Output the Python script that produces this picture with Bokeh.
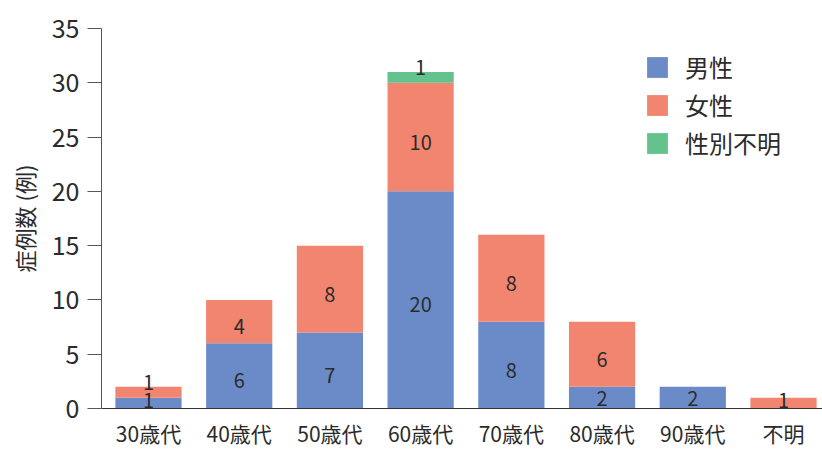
from bokeh.plotting import figure
from bokeh.models import (ColumnDataSource, Range1d, FixedTicker, SingleIntervalTicker,
                          Legend, LegendItem)
from bokeh.embed import file_html
from bokeh.resources import INLINE
from bokeh.core.properties import value

# ---- data ----
categories = ["30歳代", "40歳代", "50歳代", "60歳代", "70歳代", "80歳代", "90歳代", "不明"]
male = [1, 6, 7, 20, 8, 2, 2, 0]
female = [1, 4, 8, 10, 8, 6, 0, 1]
unknown = [0, 0, 0, 1, 0, 0, 0, 0]
series_names = ["男性", "女性", "性別不明"]
y_ticks_interval = 5

colors = ["#6b8bc8", "#f28570", "#64c28c"]
FONT = "Noto Sans CJK JP"
TXT = "#2b2b2b"

xs = list(range(len(categories)))
src = ColumnDataSource(dict(x=xs, male=male, female=female, unknown=unknown))

p = figure(width=822, height=450, output_backend="svg", toolbar_location=None,
           x_range=Range1d(-0.518, 7.43), y_range=Range1d(0, 35),
           min_border_left=101, min_border_right=0, min_border_top=28, min_border_bottom=40)
p.outline_line_color = None
p.xgrid.visible = False
p.ygrid.visible = False
p.background_fill_color = "white"
p.border_fill_color = "white"

rs = p.vbar_stack(["male", "female", "unknown"], x="x", width=0.73, source=src,
                  color=colors, line_color=None)

# labels
lx, ly, lt, loff = [], [], [], []
base = [0] * len(categories)
for ser in (male, female, unknown):
    for i, v in enumerate(ser):
        if v > 0:
            lx.append(i)
            ly.append(base[i] + v / 2)
            lt.append(str(v))
            if v <= 1 and base[i] > 0:
                loff.append(-10)
            elif v <= 1:
                loff.append(-3)
            elif v <= 2:
                loff.append(1)
            else:
                loff.append(5)
            base[i] += v
lsrc = ColumnDataSource(dict(x=lx, y=ly, t=lt, off=loff))
p.text(x="x", y="y", text="t", y_offset="off", source=lsrc, text_align="center",
       text_baseline="middle", text_font=value(FONT), text_font_size="20px", text_color=TXT)

# axes
xa = p.xaxis[0]
xa.ticker = FixedTicker(ticks=xs)
xa.major_label_overrides = {i: c for i, c in enumerate(categories)}
xa.major_tick_line_color = None
xa.minor_tick_line_color = None
xa.major_tick_out = 0
xa.major_tick_in = 0
xa.major_label_standoff = 9
xa.major_label_text_font = FONT
xa.major_label_text_font_size = "21px"
xa.major_label_text_color = TXT
xa.axis_line_color = "#333333"

ya = p.yaxis[0]
ya.ticker = SingleIntervalTicker(interval=y_ticks_interval)
ya.minor_tick_line_color = None
ya.major_tick_out = 14
ya.major_tick_in = 0
ya.major_tick_line_color = "#555555"
ya.axis_line_color = "#555555"
ya.major_label_standoff = 8
ya.major_label_text_font = FONT
ya.major_label_text_font_size = "25px"
ya.major_label_text_color = TXT
ya.axis_label = "症例数 (例)"
ya.axis_label_text_font = FONT
ya.axis_label_text_font_size = "22px"
ya.axis_label_text_font_style = "normal"
ya.axis_label_text_color = TXT
ya.axis_label_standoff = 9

legend = Legend(items=[LegendItem(label=n, renderers=[r]) for n, r in zip(series_names, rs)],
                location=(543, 248))
legend.glyph_width = 26
legend.glyph_height = 26
legend.label_height = 35
legend.spacing = 3
legend.padding = 0
legend.margin = 0
legend.label_standoff = 15
legend.label_text_font = FONT
legend.label_text_font_size = "24px"
legend.label_text_color = TXT
legend.border_line_color = None
legend.background_fill_alpha = 0
p.add_layout(legend)

open("out.html", "w").write(file_html(p, INLINE))
